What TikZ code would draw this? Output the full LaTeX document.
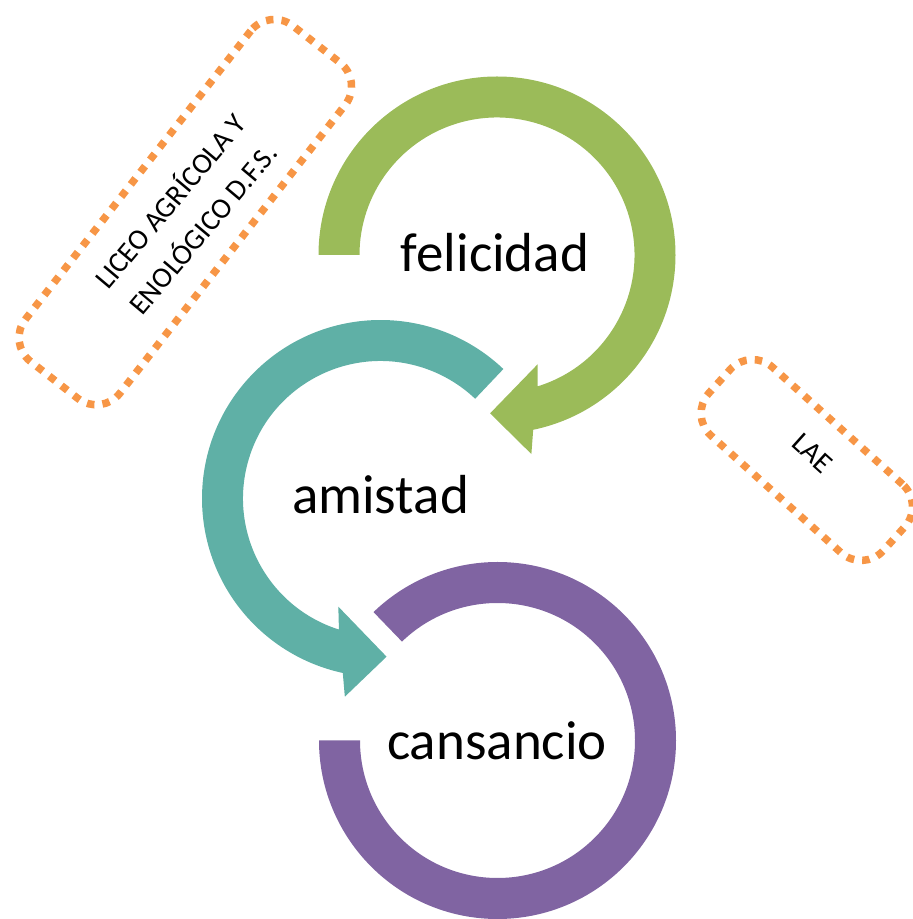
\documentclass[tikz,border=0pt]{standalone}
\usepackage{fontspec}
\setmainfont{Carlito}
\definecolor{cgreen}{RGB}{155,187,89}
\definecolor{cteal}{RGB}{95,176,166}
\definecolor{cpurple}{RGB}{128,100,162}
\definecolor{corange}{RGB}{247,150,70}
\begin{document}
\begin{tikzpicture}[x=1pt,y=1pt,
  dotbox/.style={draw=corange, line width=7.5pt, dash pattern=on 7.5pt off 8.1pt, rounded corners=30pt, inner sep=0pt, outer sep=0pt},
  bigtext/.style={font=\fontsize{55}{60}\selectfont, inner sep=0pt, anchor=base},
  smalltext/.style={font=\fontsize{29}{43}\selectfont, align=center, inner sep=0pt}]
\useasboundingbox (0,0) rectangle (913,919);
\clip (0,0) rectangle (913,919);
% green arrow (felicidad)
\begin{scope}[shift={(497,664)}]
\fill[cgreen] (180:178.5) arc[start angle=180, end angle=-78.3, radius=178.5]
  -- (-80.2:202) -- (-92.5:158.5) -- (-69.6:116.6) -- (-72.8:137.5)
  arc[start angle=-72.8, end angle=180, radius=137.5] -- cycle;
\end{scope}
% teal arrow (amistad)
\begin{scope}[shift={(380.5,420.5)}]
\fill[cteal] (46.5:178.5) arc[start angle=46.5, end angle=257.8, radius=178.5]
  -- (259.8:201.4) -- (272.2:158.3) -- (248.7:116.1) -- (252.4:137.5)
  arc[start angle=252.4, end angle=46.5, radius=137.5] -- cycle;
\end{scope}
% purple ring (cansancio)
\begin{scope}[shift={(497.5,178.5)}]
\fill[cpurple] (180:178.5) arc[start angle=180, end angle=494, radius=178.5]
  -- (494:137.5) arc[start angle=494, end angle=180, radius=137.5] -- cycle;
\end{scope}
% labels
\node[bigtext] (felicidad) at (495,647) {felicidad};
\node[bigtext] (amistad) at (380.5,405) {amistad};
\node[bigtext] (cansancio) at (497,159) {cansancio};
% dotted boxes
\node[dotbox, rotate=52, minimum width=426pt, minimum height=120pt] (liceobox) at (185.3,706.9) {};
\node[smalltext, rotate=50] (liceo) at (185.3,705) {LICEO AGRÍCOLA Y\\ENOLÓGICO D.F.S.};
\node[dotbox, rotate=-42, minimum width=235pt, minimum height=92pt] (laebox) at (806.8,459) {};
\node[smalltext, rotate=-42] (lae) at (812.7,465.7) {LAE};
\end{tikzpicture}
\end{document}
